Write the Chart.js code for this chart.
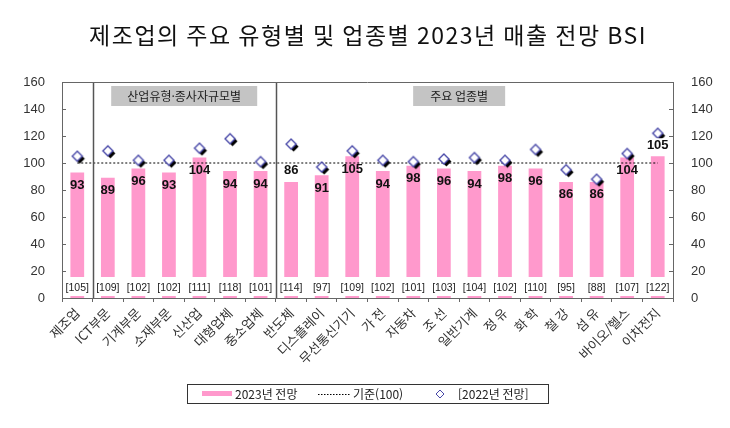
<!DOCTYPE html>
<html lang="ko">
<head>
  <meta charset="UTF-8">
  <title>제조업 매출 전망 BSI</title>
  <script src="https://cdn.jsdelivr.net/npm/chart.js"></script>
  <style>
    body { margin: 0; background: #fff; }
    #wrap { width: 730px; height: 428px; }
  </style>
</head>
<body>
  <div id="wrap">
    <canvas id="bsiChart" width="730" height="428"></canvas>
  </div>
  <script>
    // 카테고리와 값
    const categories = ['제조업', 'ICT부문', '기계부문', '소재부문', '신산업', '대형업체', '중소업체',
      '반도체', '디스플레이', '무선통신기기', '가 전', '자동차', '조 선', '일반기계', '정 유', '화 학',
      '철 강', '섬 유', '바이오/헬스', '이차전지'];
    const outlook2023 = [93, 89, 96, 93, 104, 94, 94, 86, 91, 105, 94, 98, 96, 94, 98, 96, 86, 86, 104, 105];
    const outlook2022 = [105, 109, 102, 102, 111, 118, 101, 114, 97, 109, 102, 101, 103, 104, 102, 110, 95, 88, 107, 122];
    const baseline = [100, 100, 100, 100, 100, 100, 100, 100, 100, 100, 100, 100, 100, 100, 100, 100, 100, 100, 100, 100];
    const groupNames = ['산업유형·종사자규모별', '주요 업종별'];
    const seriesNames = ['2023년 전망', '기준(100)', '[2022년 전망]'];
    // 막대 위에 값을 적는 항목 (나머지는 막대 안쪽)
    const labelAbove = ['반도체', '이차전지'];

    const FONT = '"Noto Sans CJK KR", sans-serif';
    const NUM_FONT = '"Liberation Sans", Arial, sans-serif';

    // 그림자 있는 다이아몬드 마커
    function makeDiamond() {
      const c = document.createElement('canvas');
      c.width = 24; c.height = 24;
      const g = c.getContext('2d');
      const d = (cx, cy, r) => {
        g.beginPath();
        g.moveTo(cx, cy - r); g.lineTo(cx + r, cy); g.lineTo(cx, cy + r); g.lineTo(cx - r, cy);
        g.closePath();
      };
      d(14.5, 14.5, 5); g.fillStyle = '#000'; g.fill();
      d(12, 12, 5); g.fillStyle = '#fff'; g.fill();
      g.lineWidth = 1.4; g.strokeStyle = '#4848a8'; g.stroke();
      return c;
    }
    const diamond = makeDiamond();

    const decor = {
      id: 'decor',
      afterDatasetsDraw(chart) {
        const { ctx, chartArea: a, scales: { x, y } } = chart;
        const step = x.getPixelForValue(1) - x.getPixelForValue(0);
        ctx.save();

        // 하단 [2022] 값 띠
        ctx.font = '10.5px ' + NUM_FONT;
        ctx.textAlign = 'center';
        ctx.textBaseline = 'middle';
        categories.forEach((c, i) => {
          const cx = x.getPixelForValue(i);
          ctx.fillStyle = '#fff';
          ctx.fillRect(cx - step / 2 + 1, a.bottom - 21, step - 2, 19);
          ctx.fillStyle = '#222';
          ctx.fillText('[' + outlook2022[i] + ']', cx, a.bottom - 10);
        });

        // 막대 값 라벨
        ctx.font = 'bold 13px ' + NUM_FONT;
        outlook2023.forEach((v, i) => {
          const cx = x.getPixelForValue(i);
          const top = y.getPixelForValue(v);
          const above = labelAbove.includes(categories[i]);
          const ly = above ? top - 11 : top + 13;
          if (above) {
            const w = ctx.measureText(String(v)).width;
            ctx.fillStyle = '#fff';
            ctx.fillRect(cx - w / 2 - 3, ly - 7, w + 6, 14);
          }
          ctx.fillStyle = '#111';
          ctx.fillText(String(v), cx, ly);
        });

        // 구분선
        ctx.strokeStyle = '#555';
        ctx.lineWidth = 1.5;
        [0.5, 6.5].forEach(b => {
          const px = Math.round(x.getPixelForValue(b - 0.5) + step / 2) + 0.5;
          ctx.beginPath(); ctx.moveTo(px, a.top); ctx.lineTo(px, a.bottom); ctx.stroke();
        });

        // 그룹 박스
        const boxes = [
          { cx: (x.getPixelForValue(1) + x.getPixelForValue(6)) / 2, w: 146 },
          { cx: (x.getPixelForValue(10) + x.getPixelForValue(15)) / 2, w: 92 }
        ];
        ctx.font = '12px ' + FONT;
        boxes.forEach((b, i) => {
          ctx.fillStyle = '#c4c4c4';
          ctx.fillRect(b.cx - b.w / 2, a.top + 4, b.w, 20);
          ctx.fillStyle = '#222';
          ctx.fillText(groupNames[i], b.cx, a.top + 14.5);
        });

        // 위쪽 테두리, 안쪽 눈금
        ctx.strokeStyle = '#666';
        ctx.lineWidth = 1;
        ctx.beginPath();
        ctx.moveTo(a.left, a.top + 0.5); ctx.lineTo(a.right, a.top + 0.5);
        y.ticks.forEach(t => {
          const py = Math.round(y.getPixelForValue(t.value)) + 0.5;
          ctx.moveTo(a.left, py); ctx.lineTo(a.left + 4, py);
          ctx.moveTo(a.right, py); ctx.lineTo(a.right - 4, py);
        });
        ctx.stroke();
        ctx.restore();
      },
      afterDraw(chart) {
        const { ctx } = chart;
        ctx.save();
        // 제목
        ctx.font = '23px ' + FONT;
        ctx.letterSpacing = '1.5px';
        ctx.fillStyle = '#111';
        ctx.textAlign = 'center';
        ctx.textBaseline = 'middle';
        ctx.fillText('제조업의 주요 유형별 및 업종별 2023년 매출 전망 BSI', 368, 35);
        ctx.letterSpacing = '0px';

        // 범례
        ctx.strokeStyle = '#333';
        ctx.lineWidth = 1;
        ctx.strokeRect(187.5, 384.5, 361, 19);
        ctx.font = '12px ' + FONT;
        ctx.textAlign = 'left';
        ctx.fillStyle = '#ff99cc';
        ctx.fillRect(202, 391, 30, 5);
        ctx.fillStyle = '#222';
        ctx.fillText(seriesNames[0], 235, 394);
        ctx.strokeStyle = '#000';
        ctx.setLineDash([1.5, 1.5]);
        ctx.beginPath(); ctx.moveTo(318, 394.5); ctx.lineTo(350, 394.5); ctx.stroke();
        ctx.setLineDash([]);
        ctx.fillText(seriesNames[1], 353, 394);
        ctx.beginPath();
        ctx.moveTo(440, 390); ctx.lineTo(444, 394); ctx.lineTo(440, 398); ctx.lineTo(436, 394); ctx.closePath();
        ctx.strokeStyle = '#4848a8'; ctx.stroke();
        ctx.fillText(seriesNames[2], 458, 394);
        ctx.restore();
      }
    };

    new Chart(document.getElementById('bsiChart'), {
      type: 'bar',
      data: {
        labels: categories,
        datasets: [
          {
            label: seriesNames[0],
            data: outlook2023,
            backgroundColor: '#ff99cc',
            barPercentage: 0.45,
            categoryPercentage: 1,
            order: 3,
            yAxisID: 'y'
          },
          {
            type: 'line',
            label: seriesNames[1],
            data: baseline,
            borderColor: '#000',
            borderWidth: 1,
            borderDash: [2, 2],
            pointRadius: 0,
            order: 2,
            yAxisID: 'y'
          },
          {
            type: 'line',
            label: seriesNames[2],
            data: outlook2022,
            showLine: false,
            pointStyle: diamond,
            pointRadius: 6,
            order: 1,
            yAxisID: 'y'
          }
        ]
      },
      options: {
        responsive: false,
        animation: false,
        layout: { padding: { top: 82, left: 0, right: 0, bottom: 0 } },
        plugins: {
          legend: { display: false },
          title: { display: false },
          tooltip: { enabled: false }
        },
        scales: {
          x: {
            grid: { display: true, drawOnChartArea: false, tickLength: 4, color: '#666' },
            border: { color: '#666', width: 1 },
            ticks: {
              autoSkip: false, minRotation: 45, maxRotation: 45, padding: 3,
              color: '#333', font: { family: FONT, size: 13 }
            },
            afterFit(s) { s.height = 130; }
          },
          y: {
            position: 'left',
            min: 0, max: 160,
            grid: { display: false },
            border: { color: '#666', width: 1 },
            ticks: { stepSize: 20, padding: 9, color: '#333', font: { family: NUM_FONT, size: 13 } },
            afterFit(s) { s.width = 62; }
          },
          y2: {
            position: 'right',
            min: 0, max: 160,
            grid: { display: false },
            border: { color: '#666', width: 1 },
            ticks: { stepSize: 20, padding: 10, color: '#333', font: { family: NUM_FONT, size: 13 } },
            afterFit(s) { s.width = 57; }
          }
        }
      },
      plugins: [decor]
    });
  </script>
</body>
</html>
